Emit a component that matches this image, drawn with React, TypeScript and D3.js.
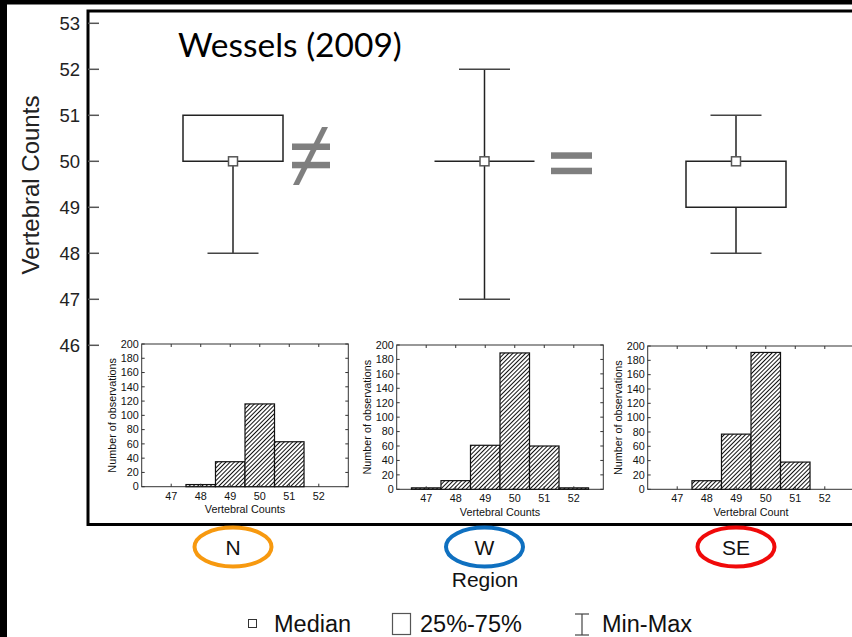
import React from 'react';
import * as d3 from 'd3';

// Vertebral count summaries by region
const regions = ['N', 'W', 'SE'];
const regionColors = ['#F7990F', '#0F70C0', '#F00A0A'];
const minVals = [48, 47, 48];
const q1Vals = [50, 50, 49];
const medianVals = [50, 50, 50];
const q3Vals = [51, 50, 50];
const maxVals = [51, 52, 51];
const yTicks = [46, 47, 48, 49, 50, 51, 52, 53];

// Histograms of vertebral counts per region
const countBins = [47, 48, 49, 50, 51, 52];
const histN = [0, 3, 35, 116, 63, 0];
const histW = [2, 12, 61, 189, 60, 2];
const histSE = [0, 12, 77, 191, 38, 0];
const histSeries = [histN, histW, histSE];
const histYTicks = [0, 20, 40, 60, 80, 100, 120, 140, 160, 180, 200];
const histXTitles = ['Vertebral Counts', 'Vertebral Counts', 'Vertebral Count'];
const histYTitle = 'Number of observations';

const legendLabels = ['Median', '25%-75%', 'Min-Max'];

const W = 852;
const H = 637;
const FONT = '"Liberation Sans", Arial, sans-serif';
const INK = '#222';

// Inset panel placement
const panelLefts = [141.7, 396.7, 647.7];
const panelTops = [344, 345, 346];
const panelBottoms = [486.7, 489.3, 489.3];
const panelWidth = 206.6;

function Histogram({ idx }: { idx: number }) {
  const left = panelLefts[idx];
  const top = panelTops[idx];
  const bottom = panelBottoms[idx];
  const hx = d3.scaleLinear().domain([46, 53]).range([left, left + panelWidth]);
  const hy = d3.scaleLinear().domain([0, 200]).range([bottom, top]);
  const values = histSeries[idx];
  const right = left + panelWidth;
  const showRight = right < W;
  return (
    <g fontFamily={FONT} fill="#111">
      <rect x={left} y={top} width={panelWidth} height={bottom - top} fill="white" stroke="#333" strokeWidth={1} />
      {countBins.map((b, i) =>
        values[i] > 0 ? (
          <rect
            key={b}
            x={hx(b - 0.5)}
            y={hy(values[i])}
            width={hx(b + 0.5) - hx(b - 0.5)}
            height={bottom - hy(values[i])}
            fill="url(#hatch)"
            stroke="#111"
            strokeWidth={1.2}
          />
        ) : null
      )}
      {histYTicks.map((t) => (
        <g key={t}>
          <line x1={left} x2={left + 3} y1={hy(t)} y2={hy(t)} stroke="#333" strokeWidth={1} />
          {showRight && <line x1={right - 3} x2={right} y1={hy(t)} y2={hy(t)} stroke="#333" strokeWidth={1} />}
          <text x={left - 3} y={hy(t)} dy="0.35em" textAnchor="end" fontSize={10.8}>
            {t}
          </text>
        </g>
      ))}
      {countBins.map((b) => (
        <g key={b}>
          <line x1={hx(b)} x2={hx(b)} y1={bottom} y2={bottom - 3} stroke="#333" strokeWidth={1} />
          <line x1={hx(b)} x2={hx(b)} y1={top} y2={top + 3} stroke="#333" strokeWidth={1} />
          <text x={hx(b)} y={bottom + 13} textAnchor="middle" fontSize={10.8}>
            {b}
          </text>
        </g>
      ))}
      <text x={(left + right) / 2} y={bottom + 26.5} textAnchor="middle" fontSize={10.8}>
        {histXTitles[idx]}
      </text>
      <text
        transform={`translate(${left - 29},${(top + bottom) / 2}) rotate(-90)`}
        textAnchor="middle"
        dy="0.35em"
        fontSize={10.8}
      >
        {histYTitle}
      </text>
    </g>
  );
}

export default function App() {
  const y = d3.scaleLinear().domain([46, 53]).range([345.3, 23.3]);
  const xR = d3.scalePoint<string>().domain(regions).range([233, 736]);
  const boxHalf = 50;
  const capHalf = 25.5;
  const gray = '#7F7F7F';

  return (
    <svg
      width={W}
      height={H}
      viewBox={`0 0 ${W} ${H}`}
      style={{ position: 'absolute', left: 0, top: 0, display: 'block' }}
    >
      <defs>
        <pattern id="hatch" patternUnits="userSpaceOnUse" width={3} height={3} patternTransform="rotate(45)">
          <rect width={3} height={3} fill="white" />
          <line x1={0.5} y1={0} x2={0.5} y2={3} stroke="#111" strokeWidth={1} />
        </pattern>
      </defs>
      <rect width={W} height={H} fill="white" />
      <rect x={0} y={0} width={W} height={4.5} fill="black" />
      <rect x={0} y={0} width={7} height={H} fill="black" />

      {/* main plot frame */}
      <path d={`M${W},11 H88 V524.5 H${W}`} fill="none" stroke="black" strokeWidth={3} />

      {/* y axis */}
      {yTicks.map((t) => (
        <g key={t}>
          <line x1={88} x2={99} y1={y(t)} y2={y(t)} stroke="#555" strokeWidth={1.5} />
          <text x={80} y={y(t)} dy="0.35em" textAnchor="end" fontSize={18.5} fontFamily={FONT} fill={INK}>
            {t}
          </text>
        </g>
      ))}
      <text
        transform="translate(31,185) rotate(-90)"
        textAnchor="middle"
        dy="0.35em"
        fontSize={24}
        fontFamily={FONT}
        fill={INK}
      >
        Vertebral Counts
      </text>

      <text x={178} y={57} fontSize={33.5} fontFamily="Lato, 'Open Sans', sans-serif" fill="black">
        Wessels (2009)
      </text>

      {/* box plots */}
      {regions.map((r, i) => {
        const cx = xR(r) as number;
        return (
          <g key={r}>
            <line x1={cx} x2={cx} y1={y(minVals[i])} y2={y(maxVals[i])} stroke={INK} strokeWidth={1.5} />
            {maxVals[i] > q3Vals[i] && (
              <line x1={cx - capHalf} x2={cx + capHalf} y1={y(maxVals[i])} y2={y(maxVals[i])} stroke="#444" strokeWidth={1.5} />
            )}
            {minVals[i] < q1Vals[i] && (
              <line x1={cx - capHalf} x2={cx + capHalf} y1={y(minVals[i])} y2={y(minVals[i])} stroke="#444" strokeWidth={1.5} />
            )}
            <path
              d={`M${cx - boxHalf},${y(q3Vals[i])} H${cx + boxHalf} V${y(q1Vals[i])} H${cx - boxHalf} Z`}
              fill="white"
              stroke={INK}
              strokeWidth={1.5}
            />
            <rect
              x={cx - 4.5}
              y={y(medianVals[i]) - 4.5}
              width={9}
              height={9}
              fill="white"
              stroke="#555"
              strokeWidth={1.5}
            />
          </g>
        );
      })}

      {/* comparison signs */}
      <g fill={gray}>
        <rect x={292} y={143.5} width={38} height={6.5} />
        <rect x={292} y={161.8} width={38} height={6.5} />
        <polygon points="322,127 328,127 299,185 293,185" />
        <rect x={551} y={152.3} width={41} height={6.5} />
        <rect x={551} y={167.7} width={41} height={6.5} />
      </g>

      {/* histograms */}
      {regions.map((r, i) => (
        <Histogram key={r} idx={i} />
      ))}

      {/* region labels */}
      {regions.map((r, i) => {
        const cx = xR(r) as number;
        return (
          <g key={r}>
            <ellipse cx={cx} cy={547} rx={38.5} ry={19.5} fill="none" stroke={regionColors[i]} strokeWidth={4} />
            <text x={cx} y={554.5} textAnchor="middle" fontSize={21} fontFamily={FONT} fill="#111">
              {r}
            </text>
          </g>
        );
      })}
      <text x={485} y={587} textAnchor="middle" fontSize={21} fontFamily={FONT} fill="#111">
        Region
      </text>

      {/* legend */}
      <g fontFamily={FONT} fontSize={23.5} fill="#111">
        <rect x={248.5} y={619.5} width={8} height={8} fill="white" stroke="#333" strokeWidth={1} />
        <text x={274} y={631.5}>{legendLabels[0]}</text>
        <rect x={392.5} y={613.5} width={18} height={21} fill="white" stroke="#555" strokeWidth={1.2} />
        <text x={420} y={631.5}>{legendLabels[1]}</text>
        <line x1={582} x2={582} y1={614} y2={635} stroke="#444" strokeWidth={1.2} />
        <line x1={575} x2={589} y1={614} y2={614} stroke="#444" strokeWidth={1.2} />
        <line x1={575} x2={589} y1={635} y2={635} stroke="#444" strokeWidth={1.2} />
        <text x={602} y={631.5}>{legendLabels[2]}</text>
      </g>
    </svg>
  );
}
